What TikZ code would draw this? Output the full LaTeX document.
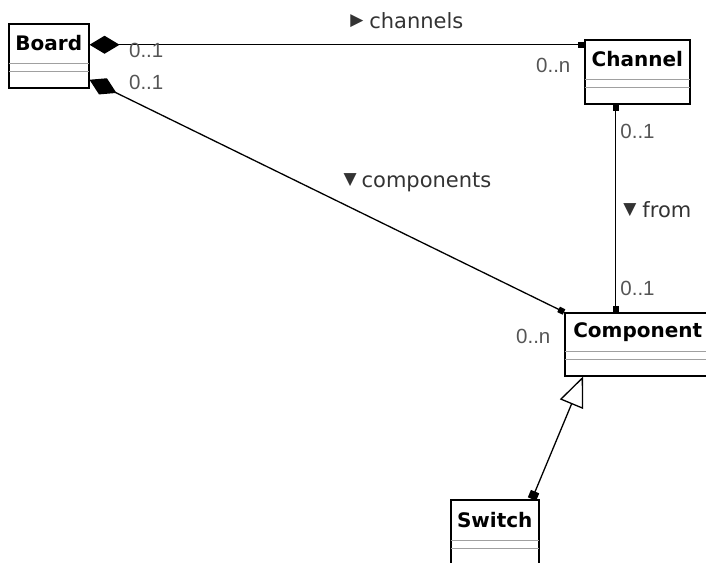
\documentclass[tikz,border=0pt]{standalone}
\usepackage{fontspec}
\setmainfont{DejaVu Sans}
\newfontfamily\namefont{DejaVu Sans}
\newfontfamily\multfont{Liberation Sans}
\newfontfamily\symfont{DejaVu Sans}
\usetikzlibrary{arrows.meta,positioning}
\definecolor{labelgray}{HTML}{555555}
\definecolor{sepgray}{HTML}{A0A0A0}
\newcommand\roletri[1]{\raisebox{3.5pt}{\symfont\fontsize{17}{17}\selectfont #1}}

\begin{document}
\begin{tikzpicture}[x=1pt,y=-1pt,
    classbox/.style={draw,line width=1.5pt,inner sep=0pt,anchor=north west},
    classname/.style={inner sep=0pt,anchor=north,font=\namefont\bfseries\fontsize{20}{20}\selectfont},
    sep/.style={draw=sepgray,line width=1pt},
    assoc/.style={line width=1.3pt},
    mult/.style={inner sep=0pt,text=labelgray,font=\multfont\fontsize{20.5}{20.5}\selectfont},
    role/.style={inner sep=0pt,text=black!80,font=\fontsize{21}{21}\selectfont}]
    \useasboundingbox (0,0) rectangle (706,562);

    % classes
    \node[classbox, minimum width=80pt, minimum height=64pt] (board) at (8,23) {};
    \node[classname, minimum width=80pt, minimum height=40pt] (board name) at (board.north) {Board};

    \node[classbox, minimum width=105pt, minimum height=64pt] (channel) at (584,39) {};
    \node[classname, minimum width=105pt, minimum height=40pt] (channel name) at (channel.north) {Channel};

    \node[classbox, minimum width=146pt, minimum height=63pt] (component) at (564,312) {};
    \node[classname, minimum width=146pt, minimum height=39pt] (component name) at (component.north) {Component};

    \node[classbox, minimum width=88pt, minimum height=65pt] (switch) at (450,499) {};
    \node[classname, minimum width=88pt, minimum height=41pt] (switch name) at (switch.north) {Switch};

    % compartments
    \draw[sep] (board name.south west) -- (board name.south east)
        ([yshift=-8pt]board name.south west) -- ([yshift=-8pt]board name.south east);
    \draw[sep] (channel name.south west) -- (channel name.south east)
        ([yshift=-8pt]channel name.south west) -- ([yshift=-8pt]channel name.south east);
    \draw[sep] (component name.south west) -- (component name.south east)
        ([yshift=-8pt]component name.south west) -- ([yshift=-8pt]component name.south east);
    \draw[sep] (switch name.south west) -- (switch name.south east)
        ([yshift=-8pt]switch name.south west) -- ([yshift=-8pt]switch name.south east);

    % associations
    \draw[assoc, {Diamond[length=30pt,width=18pt]}-{Square[length=6pt,width=6pt]}]
        ([yshift=11pt]board.east) -- ([yshift=11pt]board.east -| channel.west)
        node[mult, pos=0, anchor=north west, xshift=39pt, yshift=2pt] (board channels mult) {0..1}
        node[mult, pos=1, anchor=north east, xshift=-13pt, yshift=-13pt] (channel mult) {0..n}
        node[role, pos=0.526, anchor=base west, yshift=16pt] (channels role) {\roletri{▶}\hspace{6pt}channels};

    \draw[assoc, {Diamond[length=30pt,width=18pt]}-{Square[length=6pt,width=6pt]}]
        ([yshift=-24pt]board.east) -- (component.north west)
        node[mult, pos=0, anchor=north west, xshift=39pt, yshift=5pt] (board components mult) {0..1}
        node[mult, pos=1, anchor=north east, xshift=-13pt, yshift=-17pt] (component mult) {0..n}
        node[role, pos=0.534, anchor=base west, yshift=16pt] (components role) {\roletri{▼}\hspace{5pt}components};

    \draw[assoc, {Square[length=6pt,width=6pt]}-{Square[length=6pt,width=6pt]}]
        ([xshift=-21.5pt]channel.south) -- ([xshift=-21.5pt]channel.south |- component.north)
        node[mult, pos=0, anchor=north west, xshift=4pt, yshift=-19pt] (from channel mult) {0..1}
        node[role, pos=0.545, anchor=base west, xshift=7pt] (from role) {\roletri{▼}\hspace{6pt}from}
        node[mult, pos=1, anchor=north west, xshift=4pt, yshift=31pt] (from component mult) {0..1};

    % generalization
    \draw[assoc, {Square[length=8pt,width=9pt]}-{Triangle[open,length=30pt,width=25pt,fill=white]}]
        ([xshift=-7.5pt]switch.north east) -- ([xshift=19pt]component.south west);
\end{tikzpicture}
\end{document}
